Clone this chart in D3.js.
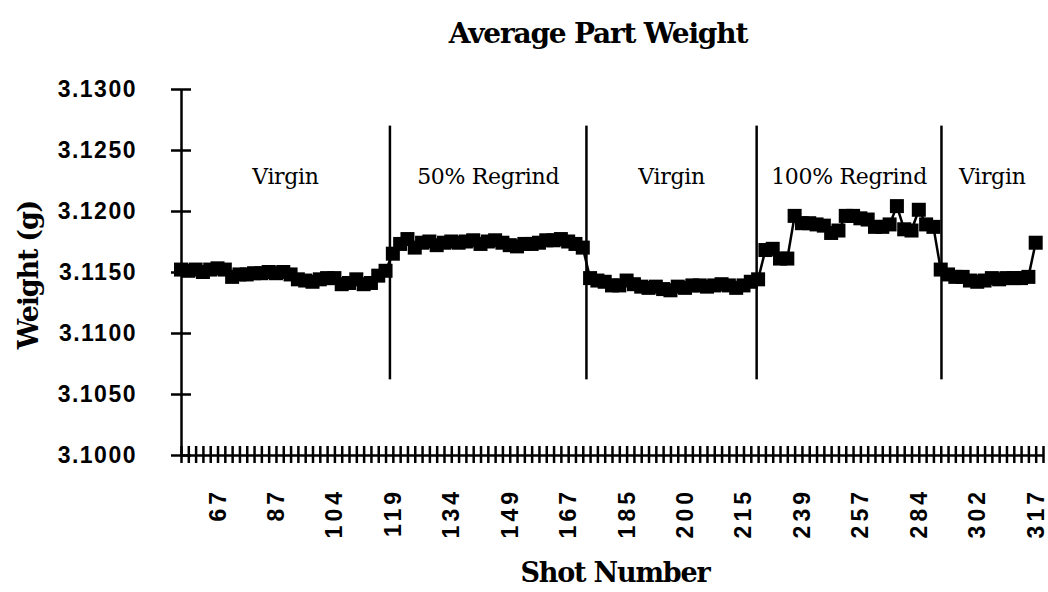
<!DOCTYPE html>
<html>
<head>
<meta charset="utf-8">
<script src="https://cdn.jsdelivr.net/npm/d3@7"></script>
<style>
  html, body { margin: 0; padding: 0; background: #fff; }
  svg { display: block; }
</style>
</head>
<body>
<svg id="chart" width="1048" height="592"></svg>
<script>
// ---------------- data ----------------
const title = "Average Part Weight";
const xTitle = "Shot Number";
const yTitle = "Weight (g)";

// average part weight per sampled shot (category index 0..117)
const weights = [
  // Virgin (0-28)
  3.1152, 3.1151, 3.1152, 3.1150, 3.1152, 3.1153, 3.1152, 3.1146, 3.1148, 3.1148,
  3.1149, 3.1149, 3.1150, 3.1149, 3.1150, 3.1148, 3.1144, 3.1143, 3.1142, 3.1144,
  3.1145, 3.1145, 3.1140, 3.1141, 3.1144, 3.1140, 3.1141, 3.1147, 3.1151,
  // 50% Regrind (29-55)
  3.1165, 3.1173, 3.1177, 3.1170, 3.1174, 3.1175, 3.1172, 3.1174, 3.1175, 3.1174,
  3.1175, 3.1176, 3.1173, 3.1175, 3.1176, 3.1174, 3.1172, 3.1171, 3.1173, 3.1173,
  3.1174, 3.1176, 3.1176, 3.1177, 3.1175, 3.1173, 3.1170,
  // Virgin (56-78)
  3.1145, 3.1143, 3.1142, 3.1139, 3.1139, 3.1143, 3.1140, 3.1138, 3.1137, 3.1138,
  3.1136, 3.1135, 3.1138, 3.1137, 3.1139, 3.1139, 3.1138, 3.1139, 3.1140, 3.1139,
  3.1137, 3.1139, 3.1142,
  // 100% Regrind (79-103)
  3.1144, 3.1168, 3.1169, 3.1161, 3.1161, 3.1196, 3.1190, 3.1190, 3.1189, 3.1188,
  3.1182, 3.1184, 3.1196, 3.1196, 3.1194, 3.1193, 3.1187, 3.1187, 3.1189, 3.1204,
  3.1185, 3.1184, 3.1201, 3.1189, 3.1187,
  // Virgin (104-117)
  3.1152, 3.1148, 3.1146, 3.1146, 3.1143, 3.1142, 3.1143, 3.1145, 3.1144, 3.1145,
  3.1145, 3.1145, 3.1146, 3.1174
];

// x tick labels (shot numbers) and the category index each one sits on
const xLabels = ["67", "87", "104", "119", "134", "149", "167", "185", "200", "215", "239", "257", "284", "302", "317"];
const xLabelIndex = [5, 13, 21, 29, 37, 45, 53, 61, 69, 77, 85, 93, 101, 109, 117];

// y ticks
const yTicks = [3.1000, 3.1050, 3.1100, 3.1150, 3.1200, 3.1250, 3.1300];

// material phases: name and boundary (category index) where each phase ends
const phases = ["Virgin", "50% Regrind", "Virgin", "100% Regrind", "Virgin"];
const dividers = [28.6, 55.5, 78.8, 104.1];

// ---------------- layout ----------------
const svg = d3.select("#chart");
const nCat = 118;
const x = d3.scaleLinear().domain([0, nCat]).range([181, 1043]);
const y = d3.scaleLinear().domain([3.10, 3.13]).range([455, 89]);

const serif = "'DejaVu Serif', 'Liberation Serif', serif";
const sans = "'Liberation Sans', Arial, Helvetica, sans-serif";

// title
svg.append("text")
  .attr("x", 598).attr("y", 43)
  .attr("text-anchor", "middle")
  .style("font-family", serif).style("font-weight", "bold")
  .style("font-size", "28px").style("letter-spacing", "-1.2px")
  .text(title);

// y axis
const yAxis = svg.append("g")
  .attr("transform", `translate(${x(0)},0)`)
  .call(d3.axisLeft(y).tickValues(yTicks).tickSize(10).tickSizeOuter(0).tickPadding(34)
    .tickFormat(d3.format(".4f")));
yAxis.select(".domain").attr("stroke", "#000").attr("stroke-width", 2.5);
yAxis.selectAll(".tick line").attr("x1", 10).attr("stroke", "#000").attr("stroke-width", 2.5);
yAxis.selectAll(".tick text")
  .style("font-family", sans).style("font-weight", "bold")
  .style("font-size", "23px").style("letter-spacing", "1.5px").attr("fill", "#000");

// x axis
const xAxis = svg.append("g")
  .attr("transform", `translate(0,${y(3.10)})`)
  .call(d3.axisBottom(x).tickValues(d3.range(0, nCat + 1)).tickSize(8).tickSizeOuter(0)
    .tickFormat(() => ""));
xAxis.select(".domain").attr("stroke", "#000").attr("stroke-width", 2.5);
xAxis.selectAll(".tick line").attr("y1", -9).attr("stroke", "#000").attr("stroke-width", 2.5);

// rotated category labels
svg.append("g").selectAll("text")
  .data(xLabels)
  .join("text")
  .attr("transform", (d, i) => `translate(${x(xLabelIndex[i]) + 8},488) rotate(-90)`)
  .attr("text-anchor", "end")
  .style("font-family", sans).style("font-weight", "bold")
  .style("font-size", "23px").style("letter-spacing", "4px")
  .text(d => d);

// axis titles
svg.append("text")
  .attr("x", 615).attr("y", 582)
  .attr("text-anchor", "middle")
  .style("font-family", serif).style("font-weight", "bold")
  .style("font-size", "27px").style("letter-spacing", "-1.2px")
  .text(xTitle);

svg.append("text")
  .attr("transform", `translate(38,275) rotate(-90)`)
  .attr("text-anchor", "middle")
  .style("font-family", serif).style("font-weight", "bold")
  .style("font-size", "27px").style("letter-spacing", "-1.2px")
  .text(yTitle);

// phase divider lines
svg.append("g").selectAll("line")
  .data(dividers)
  .join("line")
  .attr("x1", d => x(d)).attr("x2", d => x(d))
  .attr("y1", y(3.1270)).attr("y2", y(3.1062))
  .attr("stroke", "#000").attr("stroke-width", 2.5);

// phase labels, centred in each phase
const bounds = [0, ...dividers, nCat];
svg.append("g").selectAll("text")
  .data(phases)
  .join("text")
  .attr("x", (d, i) => (x(bounds[i]) + x(bounds[i + 1])) / 2)
  .attr("y", y(3.1222))
  .attr("text-anchor", "middle")
  .style("font-family", serif)
  .style("font-size", "22px").style("letter-spacing", "-0.3px")
  .text(d => d);

// data line
const line = d3.line().x((d, i) => x(i)).y(d => y(d));
svg.append("path")
  .datum(weights)
  .attr("d", line)
  .attr("fill", "none").attr("stroke", "#000").attr("stroke-width", 2.5);

// square markers
const ms = 14;
svg.append("g").selectAll("rect")
  .data(weights)
  .join("rect")
  .attr("x", (d, i) => x(i) - ms / 2)
  .attr("y", d => y(d) - ms / 2)
  .attr("width", ms).attr("height", ms)
  .attr("fill", "#000");
</script>
</body>
</html>
